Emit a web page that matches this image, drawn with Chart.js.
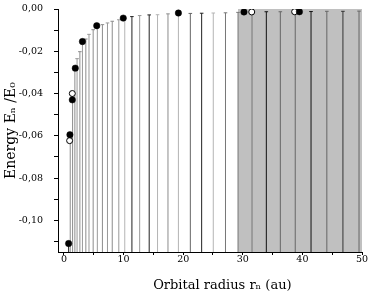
<!DOCTYPE html>
<html>
<head>
<meta charset="utf-8">
<script src="https://cdn.jsdelivr.net/npm/chart.js@4/dist/chart.umd.min.js"></script>
<style>
  html, body { margin: 0; padding: 0; background: #fff; }
  #wrap { width: 374px; height: 298px; }
</style>
</head>
<body>
<div id="wrap"><canvas id="myChart" width="374" height="298"></canvas></div>
<script>
'use strict';

// orbital radius (au) of each level line, and its energy E_n/E_0
var lineR = [0.78, 1.05, 1.45, 1.83, 2.2, 2.67, 3.1, 3.67, 4.2, 4.9, 5.6, 6.45, 7.3, 8.1, 9.2, 10.2,
             11.4, 12.7, 14.3, 15.7, 17.45, 19.2, 21.2, 23.1, 25.05, 27.1, 29.2, 31.55, 33.95,
             36.3, 38.8, 41.45, 44.1, 46.8, 49.5];
var lineE = [-0.111, -0.0625, -0.0400, -0.0285, -0.0235, -0.0202, -0.0168, -0.0142, -0.0120, -0.0098,
             -0.0086, -0.0074, -0.0066, -0.0058, -0.0051, -0.0045, -0.0036, -0.0031, -0.0028, -0.0027,
             -0.0023, -0.0021, -0.0021, -0.0020, -0.0019, -0.0018, -0.0016, -0.0014, -0.0013,
             -0.0013, -0.0012, -0.0012, -0.0011, -0.0011, -0.0010];

// planets, filled and open markers
var filledR = [0.78, 1.0, 1.4, 1.9, 3.1, 5.5, 9.95, 19.2, 30.2, 39.5];
var filledE = [-0.111, -0.0595, -0.043, -0.028, -0.0154, -0.0079, -0.0043, -0.0019, -0.0014, -0.0013];
var openR = [0.95, 1.4, 31.5, 38.7];
var openE = [-0.0623, -0.040, -0.0014, -0.0013];

// shaded band
var bandR = [29.2, 50];

// axis ranges
var xMin = -1, xMax = 50;
var yMin = -0.115, yMax = 0;

// line shades (style only)
var lineColors = ['#222', '#8c8c8c', '#8c8c8c', '#8c8c8c', '#999', '#8c8c8c', '#999', '#8c8c8c',
                  '#999', '#8c8c8c', '#999', '#8c8c8c', '#999', '#8c8c8c', '#999', '#b4b4b4',
                  '#222', '#999', '#222', '#b4b4b4', '#8c8c8c', '#b4b4b4', '#666', '#222',
                  '#b4b4b4', '#777', '#777', '#777', '#111', '#666', '#666', '#111', '#666',
                  '#333', '#666'];

(function () {
   var cap = 0.3;
   var dropData = [];
   for (var i = 0; i < lineR.length; i++) {
      dropData.push({ x: lineR[i], y: yMin });
      dropData.push({ x: lineR[i], y: lineE[i] });
      dropData.push({ x: lineR[i], y: null });
      dropData.push({ x: lineR[i] - cap, y: lineE[i] });
      dropData.push({ x: lineR[i] + cap, y: lineE[i] });
      dropData.push({ x: lineR[i], y: null });
   }

   var filledData = filledR.map(function (r, i) { return { x: r, y: filledE[i] }; });
   var openData = openR.map(function (r, i) { return { x: r, y: openE[i] }; });
   var bandData = bandR.map(function (r) { return { x: r, y: yMax }; });

   var serif = 'DejaVu Serif';

   var ctx = document.getElementById('myChart');
   new Chart(ctx, {
      type: 'line',
      data: {
         datasets: [{
            data: filledData,
            showLine: false,
            pointRadius: 3.2,
            pointBackgroundColor: '#000',
            pointBorderColor: '#000',
            pointBorderWidth: 0.5,
            order: 1
         }, {
            data: openData,
            showLine: false,
            pointRadius: 3,
            pointBackgroundColor: '#fff',
            pointBorderColor: '#000',
            pointBorderWidth: 1,
            order: 2
         }, {
            data: dropData,
            borderWidth: 1,
            pointRadius: 0,
            spanGaps: false,
            segment: {
               borderColor: function (c) { return lineColors[Math.floor(c.p0DataIndex / 6)]; }
            },
            order: 3
         }, {
            data: bandData,
            borderWidth: 0,
            pointRadius: 0,
            fill: 'start',
            backgroundColor: '#c0c0c0',
            order: 4
         }]
      },
      options: {
         responsive: false,
         animation: false,
         layout: { padding: { top: 9, right: 12, left: 0, bottom: 0 } },
         plugins: { legend: { display: false }, tooltip: { enabled: false } },
         scales: {
            x: {
               type: 'linear',
               min: xMin,
               max: xMax,
               afterFit: function (s) {
                  s.height = 46;
                  s.paddingLeft = 0;
                  s.paddingRight = 0;
               },
               grid: { drawOnChartArea: false, tickLength: 3, color: '#000' },
               border: { color: '#000', width: 1 },
               ticks: {
                  stepSize: 5,
                  includeBounds: false,
                  autoSkip: false,
                  maxRotation: 0,
                  padding: -1,
                  color: '#000',
                  font: { family: serif, size: 9.5 },
                  callback: function (v) { return v % 10 === 0 ? String(v) : ''; }
               },
               title: {
                  display: true,
                  text: '      Orbital radius rₙ (au)',
                  color: '#000',
                  font: { family: serif, size: 13 },
                  padding: { top: 0, bottom: 5 }
               }
            },
            y: {
               type: 'linear',
               min: yMin,
               max: yMax,
               afterFit: function (s) {
                  s.width = 58;
                  s.paddingTop = 0;
                  s.paddingBottom = 0;
               },
               grid: { drawOnChartArea: false, tickLength: 4, color: '#000' },
               border: { color: '#000', width: 1 },
               ticks: {
                  stepSize: 0.01,
                  includeBounds: false,
                  autoSkip: false,
                  padding: 11,
                  color: '#000',
                  font: { family: serif, size: 9.5 },
                  callback: function (v) {
                     var k = Math.round(v * 100);
                     if (k % 2 !== 0) return '';
                     return (k < 0 ? '-' : '') + (Math.abs(k) / 100).toFixed(2).replace('.', ',');
                  }
               },
               title: {
                  display: true,
                  text: 'Energy Eₙ /E₀',
                  color: '#000',
                  font: { family: serif, size: 14 },
                  padding: { top: 3, bottom: 0 }
               }
            }
         }
      }
   });
})();
</script>
</body>
</html>
